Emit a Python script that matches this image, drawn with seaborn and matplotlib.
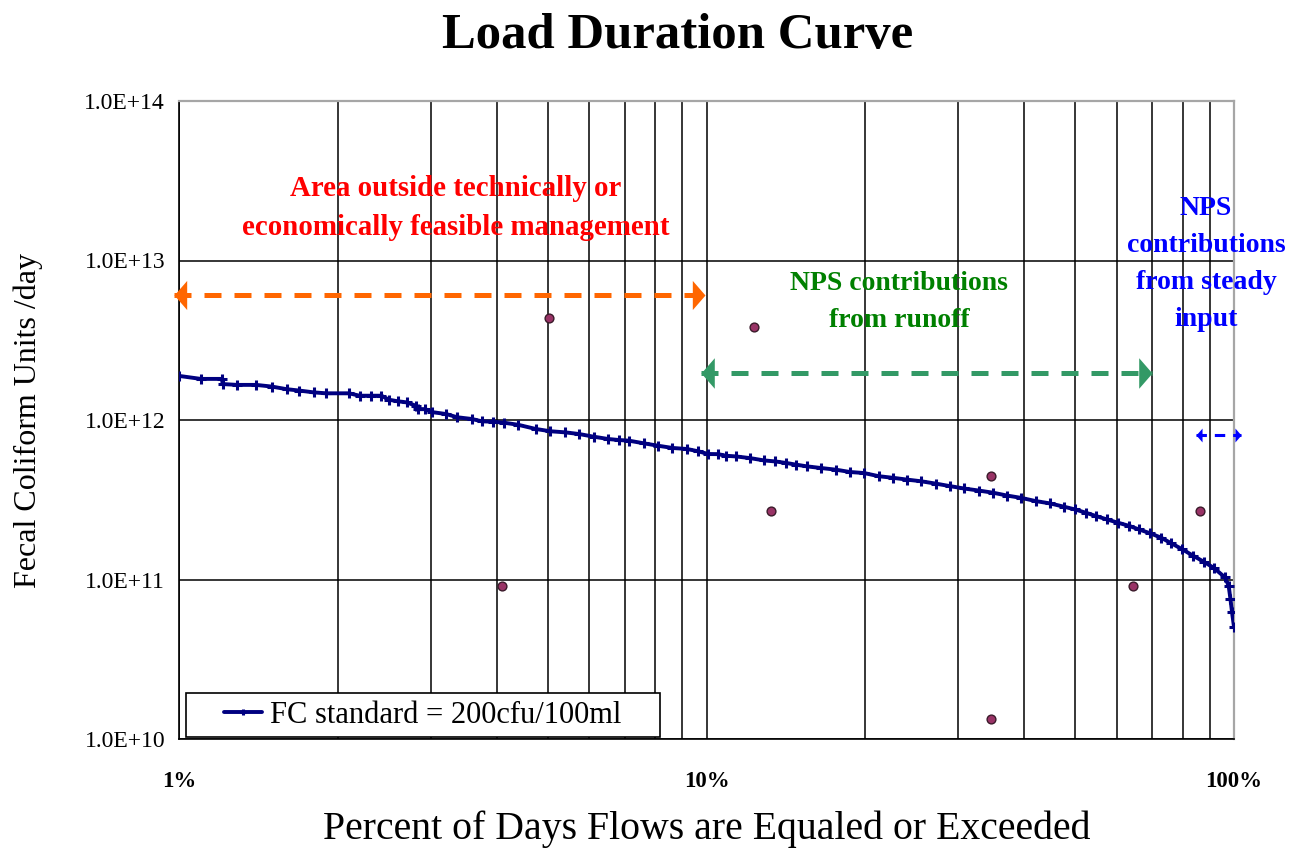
import numpy as np
import matplotlib
matplotlib.use('Agg')
import matplotlib.pyplot as plt
import matplotlib.ticker as mticker
from matplotlib.patches import Rectangle
import seaborn as sns

# load duration curve (percent of days, load in 1e11 units)
flow_pct = [1.00, 1.10, 1.206, 1.21, 1.29, 1.40, 1.50, 1.60, 1.69, 1.80,
            1.90, 2.10, 2.20, 2.31, 2.42, 2.50, 2.60, 2.70, 2.81, 2.84,
            2.93, 3.02, 3.21, 3.37, 3.59, 3.75, 3.94, 4.13, 4.39, 4.75,
            5.06, 5.39, 5.73, 6.11, 6.51, 6.83, 7.13, 7.61, 8.09, 8.62,
            9.18, 9.64, 10.07, 10.51, 10.89, 11.37, 12.09, 12.85, 13.49, 14.15,
            14.78, 15.50, 16.49, 17.60, 18.71, 19.89, 21.23, 22.58, 23.99, 25.50,
            27.23, 28.94, 30.77, 32.86, 34.93, 37.13, 39.47, 42.13, 44.79, 47.61,
            49.95, 52.42, 54.75, 57.44, 60.27, 63.23, 66.06, 69.31, 72.72, 75.97,
            79.70, 83.63, 87.73, 91.66, 96.14, 97.68, 98.45, 99.13, 100.0]
load_e11 = [18.9, 18.1, 18.1, 16.8, 16.6, 16.6, 16.2, 15.6, 15.3, 14.9,
            14.7, 14.7, 14.2, 14.2, 14.2, 13.4, 13.1, 12.9, 12.3, 11.7,
            11.7, 11.2, 10.9, 10.4, 10.15, 9.81, 9.76, 9.62, 9.34, 8.78,
            8.50, 8.37, 8.17, 7.86, 7.60, 7.49, 7.42, 7.14, 6.90, 6.68,
            6.58, 6.37, 6.12, 6.11, 5.97, 5.91, 5.77, 5.58, 5.50, 5.38,
            5.25, 5.12, 5.00, 4.88, 4.72, 4.65, 4.44, 4.34, 4.23, 4.13,
            3.99, 3.85, 3.72, 3.61, 3.50, 3.36, 3.25, 3.10, 3.00, 2.86,
            2.75, 2.62, 2.50, 2.38, 2.27, 2.17, 2.06, 1.95, 1.83, 1.69,
            1.55, 1.41, 1.29, 1.18, 1.03, 0.916, 0.757, 0.626, 0.504]
fc_load = np.array(load_e11) * 1e11

# observed samples
sample_pct = [4.09, 5.03, 12.28, 13.25, 34.6, 34.6, 64.3, 86.2]
sample_load = [9.1e10, 4.36e12, 3.83e12, 2.69e11, 4.46e11, 1.33e10, 9.1e10, 2.69e11]

# ranges shown with the dashed arrows
orange_span = [0.98, 9.93]
orange_level = 6.1e12
green_span = [9.76, 69.9]
green_level = 1.97e12
blue_span = [84.7, 103.0]
blue_level = 8.0e11

xticks = [1, 10, 100]
xtick_labels = ['1%', '10%', '100%']
yticks = [1e10, 1e11, 1e12, 1e13, 1e14]
ytick_labels = ['1.0E+10', '1.0E+11', '1.0E+12', '1.0E+13', '1.0E+14']

sns.set_style('white')
plt.rcParams['font.family'] = ['Liberation Serif', 'DejaVu Serif']
plt.rcParams['text.color'] = 'black'
plt.rcParams['axes.labelcolor'] = 'black'
plt.rcParams['xtick.color'] = 'black'
plt.rcParams['ytick.color'] = 'black'

fig = plt.figure(figsize=(12.98, 8.48), dpi=100)
ax = fig.add_axes([179 / 1298, 1 - 739 / 848, 1055 / 1298, 638 / 848])
ax.set_xscale('log')
ax.set_yscale('log')

sns.lineplot(x=flow_pct, y=fc_load, ax=ax, estimator=None, errorbar=None,
             color='#000080', lw=2.8, marker='+', markersize=7, mew=2.2,
             mec='#000080', zorder=4, label='FC standard = 200cfu/100ml',
             legend=False)
curve = ax.lines[0]

sns.scatterplot(x=sample_pct, y=sample_load, ax=ax, color='#993366',
                edgecolor='#3a1a2a', linewidth=1, s=40, marker='o',
                zorder=5, legend=False)

# dashed double-headed arrows
head_r = [(0, 0), (-0.87, 1), (-0.87, -1), (0, 0)]
head_l = [(0, 0), (0.87, 1), (0.87, -1), (0, 0)]
for span, level, col, lw, hs in [(orange_span, orange_level, '#FF6600', 3.6, 21),
                                (green_span, green_level, '#339966', 3.6, 22),
                                (blue_span, blue_level, '#0000FF', 2.2, 10)]:
    ax.plot(span, [level, level], color=col, lw=lw, ls=(0, (3.4, 2.6)),
            clip_on=False, zorder=6, solid_capstyle='butt', dash_capstyle='butt')
    ax.plot([span[0]], [level], marker=head_l, ms=hs, color=col, mew=0,
            clip_on=False, zorder=7)
    ax.plot([span[1]], [level], marker=head_r, ms=hs, color=col, mew=0,
            clip_on=False, zorder=7)

ax.text(3.34, 2.13e13, 'Area outside technically or\neconomically feasible management',
        color='#FF0000', fontsize=20.8, fontweight='bold', ha='center', va='center',
        linespacing=1.6)
ax.text(23.2, 5.5e12, 'NPS contributions\nfrom runoff', color='#008000',
        fontsize=20, fontweight='bold', ha='center', va='center', linespacing=1.65)
ax.text(88.5, 9.5e12, 'NPS\ncontributions\nfrom steady\ninput', color='#0000FF',
        fontsize=20, fontweight='bold', ha='center', va='center', linespacing=1.63)

ax.set_xlim(1, 100)
ax.set_ylim(1e10, 1e14)

ax.set_xticks(xticks)
ax.set_xticklabels(xtick_labels, fontsize=16.5, fontweight='bold')
ax.set_yticks(yticks)
ax.set_yticklabels(ytick_labels, fontsize=17)
ax.xaxis.set_minor_locator(mticker.LogLocator(base=10, subs=np.arange(2, 10)))
ax.xaxis.set_minor_formatter(mticker.NullFormatter())
ax.yaxis.set_minor_locator(mticker.NullLocator())
ax.tick_params(axis='x', which='major', direction='out', length=6, width=1,
               color='black', pad=17)
ax.tick_params(axis='x', which='minor', length=0)
ax.tick_params(axis='y', which='major', direction='out', length=6, width=1,
               color='black', pad=4)

ax.set_axisbelow(True)
ax.xaxis.grid(True, which='both', color='black', lw=1.1)
ax.yaxis.grid(True, which='major', color='black', lw=1.1)

for side in ['top', 'right']:
    ax.spines[side].set_color('#A6A6A6')
    ax.spines[side].set_linewidth(1.6)
for side in ['left', 'bottom']:
    ax.spines[side].set_color('black')
    ax.spines[side].set_linewidth(1.2)

ax.set_xlabel('Percent of Days Flows are Equaled or Exceeded', fontsize=28.6, labelpad=13)
ax.set_ylabel('Fecal Coliform Units /day', fontsize=23, labelpad=30)
fig.text(678 / 1298, 1 - 48 / 848, 'Load Duration Curve', fontsize=36.5,
         fontweight='bold', ha='center', va='baseline')

# legend box in the lower left corner
ax.add_patch(Rectangle((0.0066, 0.003), 0.449, 0.069, transform=ax.transAxes,
                       facecolor='white', edgecolor='black', lw=1.2, zorder=3))
ax.legend(handles=[curve], loc='center', bbox_to_anchor=(0.2311, 0.0375),
          frameon=False, fontsize=22, handlelength=1.25, handletextpad=0.25,
          borderpad=0.1, markerscale=0.6)

fig.savefig('out.png', dpi=100)
